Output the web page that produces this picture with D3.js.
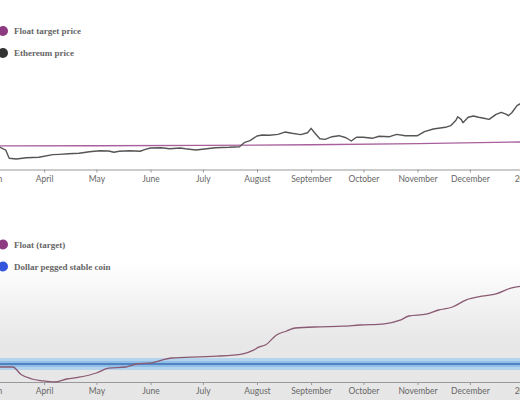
<!DOCTYPE html>
<html>
<head>
<meta charset="utf-8">
<script src="https://cdn.jsdelivr.net/npm/d3@7"></script>
<style>
  body { margin: 0; background: #fff; }
  .tick text { font-family: Lato, sans-serif; font-size: 8.5px; fill: #666; }
  .legend text { font-family: "Liberation Serif", serif; font-weight: bold; font-size: 9px; fill: #666; }
</style>
</head>
<body>
<script>
const width = 520;
const height = 400;

// top chart: ethereum vs float target price (USD)
const ethDates = ["2020-03-01","2020-03-06","2020-03-10","2020-03-12","2020-03-16","2020-03-22","2020-03-29",
  "2020-04-06","2020-04-10","2020-04-15","2020-04-21","2020-04-27","2020-05-03","2020-05-08","2020-05-11",
  "2020-05-14","2020-05-20","2020-05-26","2020-05-29","2020-06-01","2020-06-07","2020-06-12","2020-06-18",
  "2020-06-21","2020-06-27","2020-07-02","2020-07-08","2020-07-16","2020-07-22","2020-07-25","2020-07-28",
  "2020-08-01","2020-08-04","2020-08-08","2020-08-13","2020-08-17","2020-08-21","2020-08-26","2020-08-30",
  "2020-09-01","2020-09-03","2020-09-06","2020-09-09","2020-09-13","2020-09-17","2020-09-21","2020-09-24",
  "2020-09-27","2020-10-01","2020-10-06","2020-10-10","2020-10-16","2020-10-20","2020-10-25","2020-11-01",
  "2020-11-05","2020-11-10","2020-11-13","2020-11-17","2020-11-20","2020-11-23","2020-11-24","2020-11-26",
  "2020-11-27","2020-11-30","2020-12-03","2020-12-06","2020-12-09","2020-12-12","2020-12-16","2020-12-19",
  "2020-12-22","2020-12-23","2020-12-25","2020-12-28","2020-12-31"];
const ethPrice = [265,269,230,132,124,139,144,
  175,179,186,191,210,222,218,203,
  215,222,215,238,254,257,245,254,
  245,230,242,257,262,269,321,340,
  395,407,404,415,442,427,411,434,
  486,434,363,356,387,399,375,336,
  380,380,368,392,387,415,399,399,
  446,478,486,498,517,581,623,592,
  552,616,631,616,604,592,651,675,
  651,635,670,753,790];

const targetDates = ["2020-03-01","2020-05-01","2020-07-01","2020-09-01","2020-11-01","2021-01-01"];
const targetPrice = [278,280,284,292,306,325];

// bottom chart: float vs dollar peg (USD)
const floatDates = ["2020-03-01","2020-03-06","2020-03-14","2020-03-19","2020-03-25","2020-03-31","2020-04-07",
  "2020-04-14","2020-04-21","2020-05-01","2020-05-08","2020-05-18","2020-05-24","2020-06-02","2020-06-08",
  "2020-06-13","2020-06-29","2020-07-09","2020-07-24","2020-07-30","2020-08-02","2020-08-06","2020-08-12",
  "2020-08-18","2020-08-23","2020-09-06","2020-09-19","2020-09-29","2020-10-13","2020-10-22","2020-10-27",
  "2020-11-06","2020-11-13","2020-11-21","2020-11-29","2020-12-08","2020-12-16","2020-12-25","2020-12-31"];
const floatValue = [0.995,0.995,0.995,0.982,0.975,0.972,0.970,
  0.975,0.978,0.985,0.993,0.995,1.000,1.002,1.007,
  1.010,1.012,1.013,1.017,1.023,1.028,1.032,1.048,
  1.055,1.060,1.062,1.063,1.065,1.067,1.073,1.080,
  1.083,1.090,1.095,1.107,1.113,1.117,1.127,1.130];

const peg = 1;
const pegBand = [0.99, 1.01];
const pegInner = [0.995, 1.005];

const topLegend = [["Float target price", "#8e3a80"], ["Ethereum price", "#333"]];
const bottomLegend = [["Float (target)", "#8e3a80"], ["Dollar pegged stable coin", "#3355dd"]];

const parse = d3.timeParse("%Y-%m-%d");

const svg = d3.select("body").append("svg")
  .attr("width", width)
  .attr("height", height);

// grey fade behind the lower chart
const grad = svg.append("defs").append("linearGradient")
  .attr("id", "fade").attr("x1", 0).attr("x2", 0).attr("y1", 0).attr("y2", 1);
grad.append("stop").attr("offset", "0%").attr("stop-color", "#fff");
grad.append("stop").attr("offset", "55%").attr("stop-color", "#e8e8e8");
grad.append("stop").attr("offset", "100%").attr("stop-color", "#e6e6e6");
svg.append("rect")
  .attr("x", 0).attr("y", 262)
  .attr("width", width).attr("height", height - 262)
  .style("fill", "url(#fade)");

const x = d3.scaleTime()
  .domain([parse("2020-03-01"), parse("2021-01-01")])
  .range([-10, 524]);

const yTop = d3.scaleLinear().domain([0, 2000]).range([169.5, 0]);
const yBot = d3.scaleLinear().domain([0.97, 1.25]).range([382, 214]);

function drawAxis(y) {
  const g = svg.append("g")
    .attr("transform", "translate(0," + y + ")")
    .call(d3.axisBottom(x).ticks(d3.timeMonth.every(1)).tickSize(3).tickSizeOuter(0).tickPadding(3));
  g.select(".domain").style("stroke", "#999");
  g.selectAll(".tick line").style("stroke", "#999");
}

drawAxis(169.5);
drawAxis(382);

// top lines
const lineTop = d3.line()
  .x((d) => x(d[0]))
  .y((d) => yTop(d[1]));

svg.append("path")
  .datum(targetDates.map((d, i) => [parse(d), targetPrice[i]]))
  .attr("d", lineTop)
  .style("fill", "none")
  .style("stroke", "#a8609c")
  .style("stroke-width", 1.3);

svg.append("path")
  .datum(ethDates.map((d, i) => [parse(d), ethPrice[i]]))
  .attr("d", lineTop)
  .style("fill", "none")
  .style("stroke", "#555")
  .style("stroke-width", 1.4)
  .style("stroke-linejoin", "round");

// peg band
svg.append("rect")
  .attr("x", 0).attr("y", yBot(pegBand[1]))
  .attr("width", width).attr("height", yBot(pegBand[0]) - yBot(pegBand[1]))
  .style("fill", "#b4d4ee");
svg.append("rect")
  .attr("x", 0).attr("y", yBot(pegInner[1]))
  .attr("width", width).attr("height", yBot(pegInner[0]) - yBot(pegInner[1]))
  .style("fill", "#8fbee6");
svg.append("line")
  .attr("x1", 0).attr("x2", width)
  .attr("y1", yBot(peg)).attr("y2", yBot(peg))
  .style("stroke", "#3d6fb6")
  .style("stroke-width", 1.5);

svg.append("path")
  .datum(floatDates.map((d, i) => [parse(d), floatValue[i]]))
  .attr("d", d3.line().curve(d3.curveMonotoneX).x((d) => x(d[0])).y((d) => yBot(d[1])))
  .style("fill", "none")
  .style("stroke", "#8a5a72")
  .style("stroke-width", 1.3);

// legends
function drawLegend(items, y0) {
  const g = svg.append("g").attr("class", "legend");
  items.forEach((d, i) => {
    g.append("circle")
      .attr("cx", 3).attr("cy", y0 + i * 22).attr("r", 5)
      .style("fill", d[1]);
    g.append("text")
      .attr("x", 14).attr("y", y0 + i * 22 + 3)
      .text(d[0]);
  });
}

drawLegend(topLegend, 31);
drawLegend(bottomLegend, 244.5);
</script>
</body>
</html>
